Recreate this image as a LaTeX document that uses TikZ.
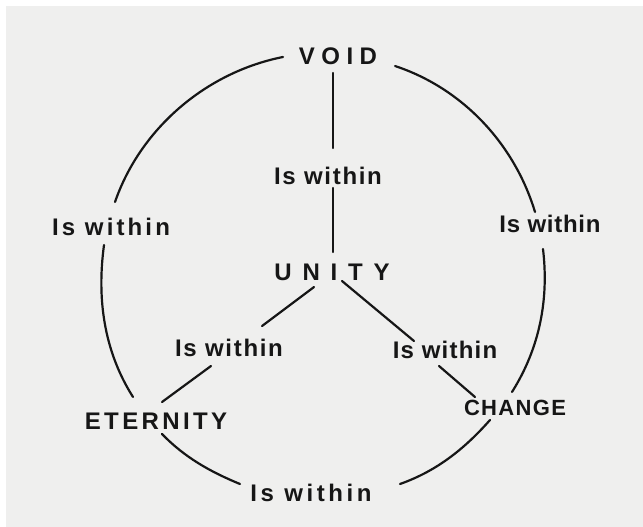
\documentclass[tikz,border=0pt]{standalone}
\usepackage{fontspec}
\setmainfont{Liberation Sans}
\definecolor{paper}{RGB}{239,239,238}
\definecolor{ink}{RGB}{22,22,22}
\begin{document}
\begin{tikzpicture}[x=1pt,y=-1pt,
  lbl/.style={font=\bfseries\fontsize{24}{28}\selectfont\addfontfeature{LetterSpace=#1}, inner sep=6pt, text=ink},
  lbl/.default=7,
  cap/.style={font=\bfseries\fontsize{24}{28}\selectfont\addfontfeature{LetterSpace=#1}, inner sep=6pt, text=ink},
  conn/.style={draw=ink, line width=2.2pt, line cap=round},
  rim/.style={conn, looseness=0.9}]
\useasboundingbox (0,0) rectangle (643,527);
\fill[white] (0,0) rectangle (643,527);
\fill[paper] (6,6) rectangle (643,527);
% nodes
\node[cap=27] (void) at (338,56) {VOID};
\node[lbl] (iv) at (328,176) {Is within};
\node[cap=45] (unity) at (332,272) {UNITY};
\node[lbl=13] (il) at (111,227) {Is within};
\node[lbl=3] (ir) at (550,224) {Is within};
\node[lbl=7] (ie) at (229,348) {Is within};
\node[lbl=5] (ic) at (445,350) {Is within};
\node[cap=14] (eter) at (156,421) {ETERNITY};
\node[cap=6, font=\bfseries\fontsize{22}{26}\selectfont\addfontfeature{LetterSpace=6}] (change) at (515,408) {CHANGE};
\node[lbl=15] (ib) at (311,493) {Is within};
% spokes
\draw[conn] ([shift={(-5,17)}]void.center) -- ([shift={(5,-28)}]iv.center);
\draw[conn] ([shift={(5,12)}]iv.center) -- ([shift={(1,-20)}]unity.center);
\draw[conn] ([shift={(-18,15)}]unity.center) -- ([shift={(33,-22)}]ie.center);
\draw[conn] ([shift={(-18,18)}]ie.center) -- ([shift={(6,-19)}]eter.center);
\draw[conn] ([shift={(10,9)}]unity.center) -- ([shift={(-31,-9)}]ic.center);
\draw[conn] ([shift={(-6,16)}]ic.center) -- ([shift={(-40,-11)}]change.center);
% circle arcs
\draw[rim] ([shift={(-55,1)}]void.center) to[out=191.2, in=70.9] ([shift={(4,-25)}]il.center);
\draw[rim] ([shift={(-7,18)}]il.center) to[out=262.3, in=122.3] ([shift={(-23,-24)}]eter.center);
\draw[rim] ([shift={(6,13)}]eter.center) to[out=314.1, in=157.6] ([shift={(-71,-9)}]ib.center);
\draw[rim] ([shift={(89,-9)}]ib.center) to[out=19.5, in=228.5] ([shift={(-25,12)}]change.center);
\draw[rim] ([shift={(-3,-16)}]change.center) to[out=57.8, in=276.8] ([shift={(-7,25)}]ir.center);
\draw[rim] ([shift={(-15,-12)}]ir.center) to[out=106.8, in=341.7] ([shift={(57,10)}]void.center);
\end{tikzpicture}
\end{document}
